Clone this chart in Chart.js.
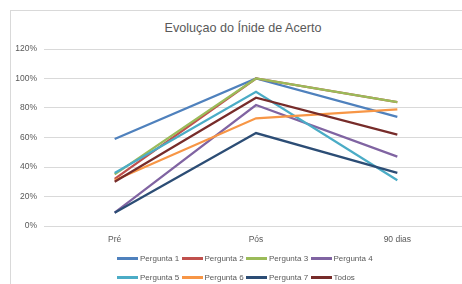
<!DOCTYPE html>
<html>
<head>
<meta charset="utf-8">
<script src="https://cdn.jsdelivr.net/npm/chart.js@4/dist/chart.umd.min.js"></script>
<style>
  html, body { margin: 0; padding: 0; background: #fff; overflow: hidden; }
  body { width: 462px; height: 284px; position: relative; font-family: 'Liberation Sans', Arial, sans-serif; }
  .frame { position: absolute; left: 10px; top: 10px; width: 480px; height: 300px; border: 1px solid #d9d9d9; }
  #chartBox { position: absolute; left: 0; top: 0; width: 468px; height: 284px; }
  .title { position: absolute; left: 0; width: 486px; top: 21px; text-align: center; font-size: 12.6px; color: #595959; }
  .legend { position: absolute; left: 117px; top: 249px; width: 260px; display: flex; flex-wrap: wrap; }
  .legend-item { width: 64.5px; height: 19px; display: flex; align-items: center; font-size: 8px; color: #595959; white-space: nowrap; }
  .legend-item .swatch { width: 21px; height: 3px; margin-right: 2px; flex: none; }
</style>
</head>
<body>
<div class="frame"></div>
<div class="title">Evoluçao do Ínide de Acerto</div>
<div id="chartBox"><canvas id="chart" width="468" height="284"></canvas></div>
<div class="legend" id="legend"></div>
<script>
// dados
const categorias = ['Pré', 'Pós', '90 dias'];
const nomes = ['Pergunta 1', 'Pergunta 2', 'Pergunta 3', 'Pergunta 4', 'Pergunta 5', 'Pergunta 6', 'Pergunta 7', 'Todos'];
const pergunta1 = [0.59, 1.00, 0.74];
const pergunta2 = [0.32, 1.00, 0.84];
const pergunta3 = [0.35, 1.00, 0.84];
const pergunta4 = [0.09, 0.82, 0.47];
const pergunta5 = [0.36, 0.91, 0.31];
const pergunta6 = [0.31, 0.73, 0.79];
const pergunta7 = [0.09, 0.63, 0.36];
const todos = [0.30, 0.87, 0.62];
const yTicks = [0, 0.2, 0.4, 0.6, 0.8, 1.0, 1.2];

const cores = ['#4F81BD', '#C0504D', '#9BBB59', '#8064A2', '#4BACC6', '#F79646', '#2C4D75', '#772C2A'];
const series = [pergunta1, pergunta2, pergunta3, pergunta4, pergunta5, pergunta6, pergunta7, todos];

const datasets = series.map((vals, i) => ({
    label: nomes[i],
    data: vals,
    borderColor: cores[i],
    backgroundColor: cores[i],
    borderWidth: 2.25,
    pointRadius: 0,
    tension: 0,
    order: series.length - i
}));

new Chart(document.getElementById('chart').getContext('2d'), {
    type: 'line',
    data: { labels: categorias, datasets: datasets },
    options: {
        responsive: false,
        animation: false,
        layout: { padding: { top: 49, left: 0, right: 0, bottom: 0 } },
        plugins: {
            legend: { display: false },
            title: { display: false },
            tooltip: { enabled: false }
        },
        scales: {
            x: {
                offset: true,
                grid: { display: false, drawTicks: false },
                border: { display: false },
                ticks: { color: '#595959', font: { family: "'Liberation Sans', Arial", size: 8.5 }, padding: 9 },
                afterFit: function (scale) { scale.height = 58; }
            },
            y: {
                min: 0,
                max: 1.2,
                afterBuildTicks: function (scale) { scale.ticks = yTicks.map(v => ({ value: v })); },
                grid: { color: '#d9d9d9', lineWidth: 1, drawTicks: false },
                border: { display: false },
                ticks: {
                    color: '#595959',
                    font: { family: "'Liberation Sans', Arial", size: 8.5 },
                    padding: 7,
                    callback: function (v) { return Math.round(v * 100) + '%'; }
                },
                afterFit: function (scale) { scale.width = 44; }
            }
        }
    }
});

// legenda em HTML, duas linhas como no original
const legend = document.getElementById('legend');
nomes.forEach((nome, i) => {
    const item = document.createElement('div');
    item.className = 'legend-item';
    item.innerHTML = '<span class="swatch" style="background:' + cores[i] + '"></span>' + nome;
    legend.appendChild(item);
});
</script>
</body>
</html>
